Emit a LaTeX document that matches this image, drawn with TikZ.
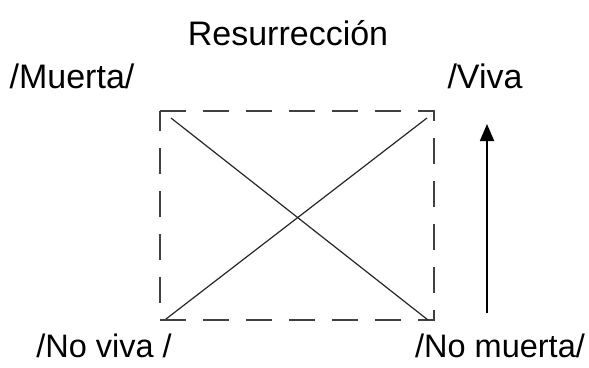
\documentclass[tikz,border=0pt]{standalone}
\usepackage{fontspec}
\setmainfont{Liberation Sans}
\usetikzlibrary{arrows.meta}
\begin{document}
\begin{tikzpicture}[x=1pt,y=-1pt,
  lbl/.style={inner sep=0pt,font=\fontsize{34}{40}\selectfont},
  lbls/.style={inner sep=0pt,font=\fontsize{32.5}{38}\selectfont},
  boxline/.style={draw=black!75,line width=2.2pt,dash pattern=on 26pt off 17pt},
  diag/.style={draw=black!85,line width=1.2pt},
  arr/.style={draw=black,line width=1.8pt,-{Triangle[length=17pt,width=14pt]}}]
\useasboundingbox (0,0) rectangle (589,367);
\node[lbl] (title) at (288,33) {Resurrección};
\node[lbl] (muerta) at (72,76) {/Muerta/};
\node[lbl] (viva) at (485,76) {/Viva};
\node[lbls] (noviva) at (104,346) {/No viva /};
\node[lbls] (nomuerta) at (500,346) {/No muerta/};
\coordinate (tl) at (160,111);
\coordinate (tr) at (434,111);
\coordinate (br) at (434,320);
\coordinate (bl) at (160,320);
\draw[boxline] (tl) -- (tr) -- (br) -- (bl) -- cycle;
\coordinate (d1s) at (171,118);
\coordinate (d1e) at (428,320);
\coordinate (d2s) at (166,319);
\coordinate (d2e) at (427,118);
\draw[diag] (d1s) -- (d1e);
\draw[diag] (d2s) -- (d2e);
\coordinate (a1) at (487,313);
\coordinate (a2) at (487,124);
\draw[arr] (a1) -- (a2);
\end{tikzpicture}
\end{document}
